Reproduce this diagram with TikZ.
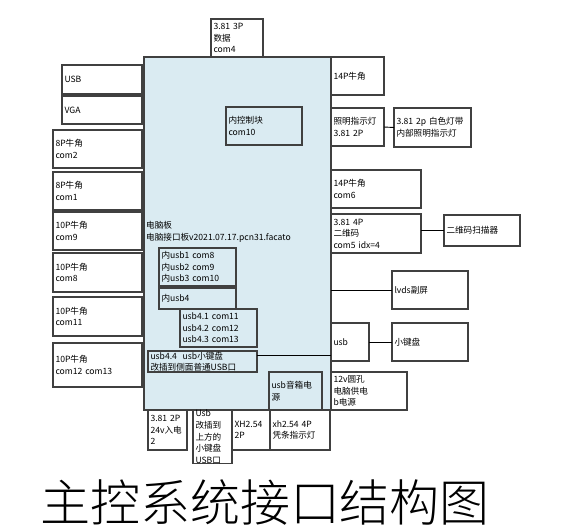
\documentclass[tikz,border=0pt]{standalone}
\usepackage{fontspec}
\setmainfont{Noto Sans CJK SC}
\newfontfamily\titlefont{Noto Sans CJK SC}[UprightFont={* Light}]
\begin{document}
\begin{tikzpicture}[x=1pt,y=-1pt,
  box/.style={draw=black!75,line width=1.1pt,inner xsep=2.5pt,inner ysep=0pt,outer sep=0pt,
    align=left,font=\fontsize{8.6}{11.6}\selectfont},
  tight/.style={font=\fontsize{8.6}{10.4}\selectfont},
  conn/.style={draw=black,line width=0.9pt}]
\useasboundingbox (0,0) rectangle (565,531);
\newcommand\bx[7][]{%
  \pgfmathsetmacro\bw{#5-#3}\pgfmathsetmacro\bh{#6-#4}\pgfmathsetmacro\tw{#5-#3-5}%
  \node[box,#1,minimum width=\bw pt,minimum height=\bh pt,text width=\tw pt] (#2) at ({(#3+#5)/2},{(#4+#6)/2}) {#7};}
% main board
\bx[fill={rgb,255:red,218;green,235;blue,242}]{board}{144}{57}{331}{410}{}
\node[anchor=west,inner sep=0pt,align=left,font=\fontsize{8.6}{11.6}\selectfont] (boardtxt) at (146,232) {电脑板\\电脑接口板v2021.07.17.pcn31.facato};
% top
\bx{com4}{211}{19}{263}{57}{3.81 3P\\数据\\com4}
% left
\bx{usbl}{62}{65}{142}{94}{USB}
\bx{vga}{62}{96}{142}{124}{VGA}
\bx{com2}{53}{130}{142}{168}{8P牛角\\com2}
\bx{com1}{53}{172}{142}{210}{8P牛角\\com1}
\bx{com9}{53}{212}{142}{250}{10P牛角\\com9}
\bx{com8}{53}{253}{142}{292}{10P牛角\\com8}
\bx{com11}{53}{297}{142}{336}{10P牛角\\com11}
\bx{com1213}{53}{343}{142}{387}{10P牛角\\com12 com13}
% right
\bx{p14a}{331}{57}{384}{95}{14P牛角}
\bx{zmled}{331}{108}{384}{146}{照明指示灯\\3.81 2P}
\bx{whled}{394}{108}{471}{147}{3.81 2p 白色灯带\\内部照明指示灯}
\bx{com6}{331}{170}{421}{208}{14P牛角\\com6}
\bx{com5}{331}{214}{421}{253}{3.81 4P\\二维码\\com5 idx=4}
\bx{scan}{444}{215}{520}{246}{二维码扫描器}
\bx{lvds}{392}{271}{468}{309}{lvds副屏}
\bx{usbr}{331}{323}{369}{361}{usb}
\bx{kbd}{392}{323}{468}{361}{小键盘}
\bx{v12}{331}{372}{407}{410}{12v圆孔\\电脑供电\\b电源}
% inside board
\bx{ctrl}{226}{107}{302}{145}{内控制块\\com10}
\bx{iusb}{159}{248}{236}{286}{内usb1 com8\\内usb2 com9\\内usb3 com10}
\bx{iusb4}{159}{288}{236}{309}{内usb4}
\bx{usb41}{180}{309}{257}{347}{usb4.1 com11\\usb4.2 com12\\usb4.3 com13}
\bx[tight]{usb44}{148}{351}{257}{372}{usb4.4\ \ usb小键盘\\改插到侧面普通USB口}
\bx{spk}{269}{372}{322}{410}{usb音箱电\\源}
% bottom
\bx{p24}{148}{410}{187}{450}{3.81 2P\\24v入电\\*2}
\bx{usbm}{193}{411}{232}{463}{Usb\\改插到\\上方的\\小键盘\\USB口}
\bx{xh2}{232}{410}{270}{450}{XH2.54\\2P}
\bx{xh4}{270}{410}{330}{450}{xh2.54 4P\\凭条指示灯}
% connectors
\draw[conn] (zmled.east) -- (whled.west);
\draw[conn] (com5.east |- scan.west) -- (scan.west);
\draw[conn] (lvds.west -| board.east) -- (lvds.west);
\draw[conn] (usbr.east) -- (kbd.west);
\draw[conn] ([yshift=6pt]usb44.east) -- ([yshift=6pt]usb44.east -| board.east);
% title
\node[inner sep=0pt,font=\titlefont\fontsize{50}{50}\selectfont] (title) at (265,503) {主控系统接口结构图};
\end{tikzpicture}
\end{document}
